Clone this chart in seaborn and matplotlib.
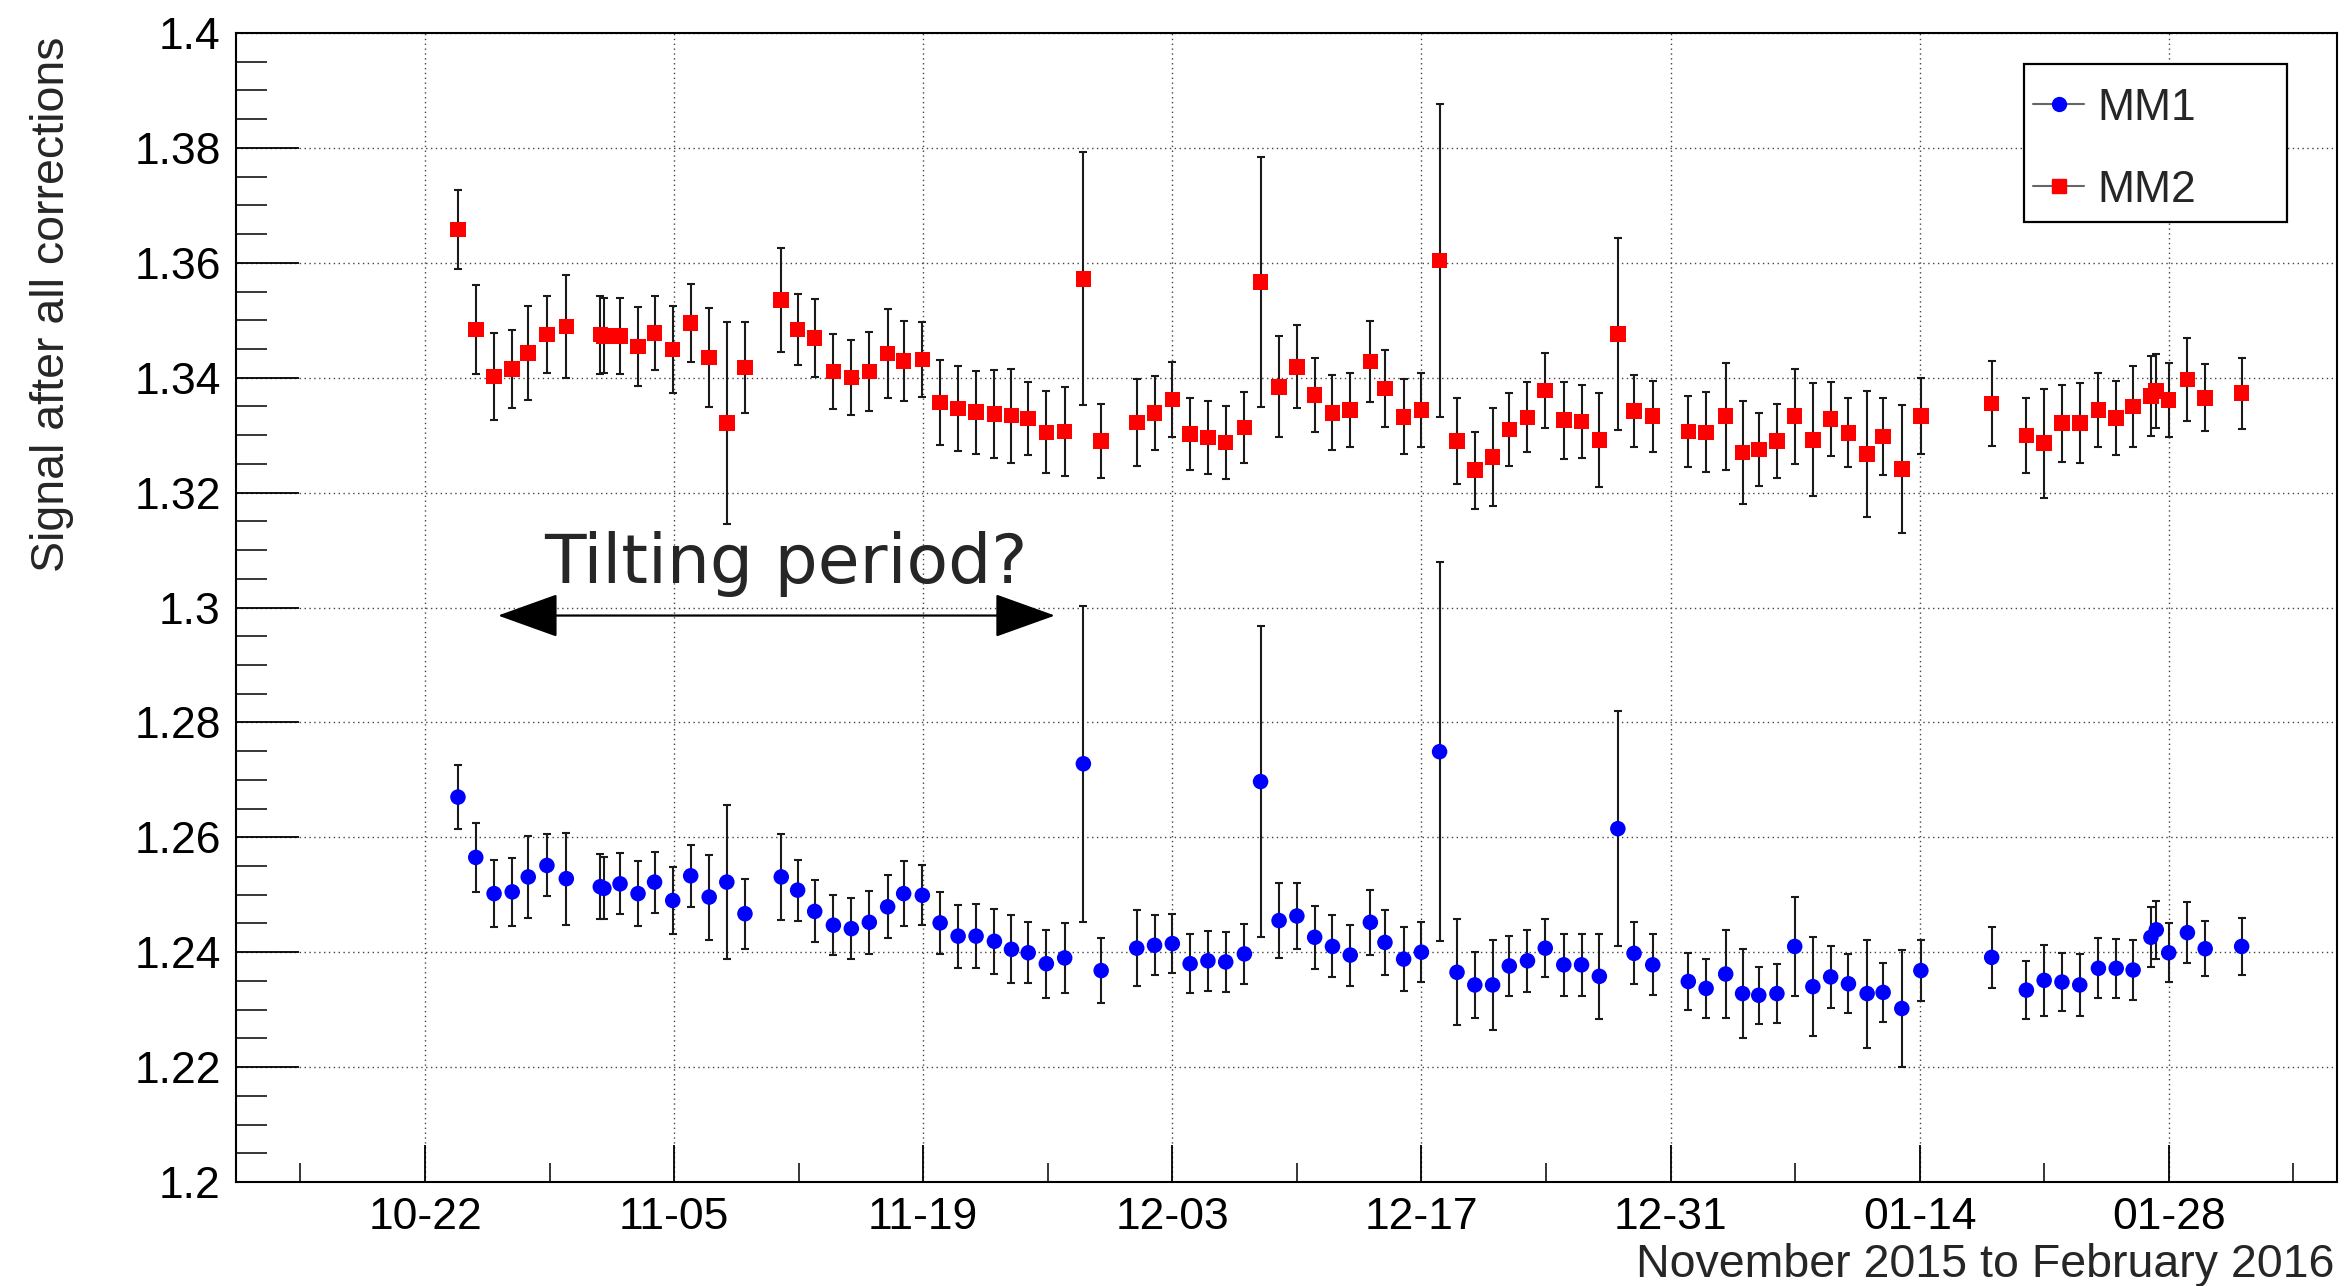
import numpy as np
import pandas as pd
import matplotlib
matplotlib.use('Agg')
import matplotlib.pyplot as plt
import matplotlib.dates as mdates
from matplotlib.ticker import MultipleLocator, FuncFormatter
from matplotlib.lines import Line2D
from matplotlib.patches import Rectangle
import seaborn as sns

# ---------------- data ----------------
start_date = '2015-10-22'
day_offsets = [1.85, 2.85, 3.88, 4.9, 5.8, 6.85, 7.94, 9.85, 10.05, 10.96, 11.97, 12.9, 13.92, 14.93, 15.97, 16.96, 17.98,
               20.02, 20.94, 21.9, 22.95, 23.96, 24.97, 26.0, 26.9, 27.95, 28.95, 29.96, 30.97, 32.0, 32.96, 33.9, 34.92, 35.95,
               37.0, 38.0,
               40.0, 41.0, 42.0, 43.0, 44.0, 45.0, 46.05,
               46.96, 48.0, 49.0, 50.0, 51.0, 52.0, 53.13, 53.95, 55.0, 56.0, 57.02, 58.0, 59.0, 60.0, 60.94, 61.96,
               62.96, 64.0, 65.0, 66.0, 67.04, 67.95, 69.0,
               71.0, 72.0, 73.1, 74.05, 74.96, 75.98, 76.98, 78.0, 79.0, 80.0, 81.05, 81.95, 83.0, 84.07,
               88.05, 90.0, 91.0, 92.0, 93.0, 94.05, 95.05, 96.0, 97.0, 97.3, 98.0, 99.05, 100.05, 102.1]

mm2_signal = [1.3658, 1.3484, 1.3402, 1.3415, 1.3443, 1.3475, 1.3489, 1.3475, 1.3473, 1.3473, 1.3454, 1.3478, 1.3449,
              1.3495, 1.3435, 1.3321, 1.3418,
              1.3535, 1.3484, 1.3469, 1.3411, 1.3400, 1.3411, 1.3442, 1.3429, 1.3432, 1.3357, 1.3346, 1.3340, 1.3337,
              1.3334, 1.3329, 1.3305, 1.3306,
              1.3572, 1.3290,
              1.3322, 1.3339, 1.3362, 1.3302, 1.3296, 1.3287, 1.3313,
              1.3567, 1.3384, 1.3419, 1.3370, 1.3339, 1.3344, 1.3428, 1.3381, 1.3332, 1.3344, 1.3604, 1.3290, 1.3239,
              1.3262, 1.3310, 1.3331, 1.3378, 1.3326, 1.3324, 1.3292, 1.3476, 1.3342, 1.3333,
              1.3306, 1.3305, 1.3333, 1.3270, 1.3275, 1.3290, 1.3333, 1.3292, 1.3328, 1.3304, 1.3267, 1.3298, 1.3241,
              1.3333,
              1.3355, 1.3299, 1.3286, 1.3321, 1.3321, 1.3344, 1.3330, 1.3350, 1.3368, 1.3377, 1.3361, 1.3397, 1.3365,
              1.3373]
mm2_error = [0.0068, 0.0077, 0.0075, 0.0068, 0.0082, 0.0067, 0.0090, 0.0068, 0.0065, 0.0066, 0.0069, 0.0064, 0.0076,
             0.0068, 0.0086, 0.0176, 0.0079,
             0.0090, 0.0062, 0.0068, 0.0065, 0.0065, 0.0069, 0.0077, 0.0070, 0.0065, 0.0074, 0.0074, 0.0072, 0.0077,
             0.0082, 0.0063, 0.0071, 0.0077,
             0.0220, 0.0065,
             0.0076, 0.0064, 0.0065, 0.0063, 0.0064, 0.0063, 0.0062,
             0.0218, 0.0088, 0.0072, 0.0065, 0.0065, 0.0064, 0.0070, 0.0067, 0.0065, 0.0065, 0.0272, 0.0075, 0.0067,
             0.0086, 0.0063, 0.0061, 0.0065, 0.0067, 0.0064, 0.0082, 0.0167, 0.0063, 0.0062,
             0.0062, 0.0070, 0.0093, 0.0089, 0.0064, 0.0064, 0.0083, 0.0098, 0.0065, 0.0060, 0.0109, 0.0067, 0.0112,
             0.0066,
             0.0074, 0.0065, 0.0095, 0.0067, 0.0070, 0.0065, 0.0065, 0.0070, 0.0069, 0.0065, 0.0064, 0.0072, 0.0058,
             0.0062]

mm1_signal = [1.2670, 1.2565, 1.2502, 1.2505, 1.2531, 1.2551, 1.2528, 1.2514, 1.2511, 1.2519, 1.2502, 1.2522, 1.2490,
              1.2533, 1.2496, 1.2522, 1.2467,
              1.2531, 1.2508, 1.2471, 1.2447, 1.2441, 1.2452, 1.2479, 1.2502, 1.2499, 1.2451, 1.2428, 1.2428, 1.2419,
              1.2405, 1.2399, 1.2380, 1.2390,
              1.2728, 1.2368,
              1.2407, 1.2412, 1.2415, 1.2380, 1.2385, 1.2383, 1.2397,
              1.2697, 1.2455, 1.2463, 1.2426, 1.2410, 1.2395, 1.2452, 1.2417, 1.2388, 1.2400, 1.2749, 1.2365, 1.2343,
              1.2343, 1.2376, 1.2385, 1.2407, 1.2378, 1.2378, 1.2358, 1.2615, 1.2398, 1.2378,
              1.2349, 1.2337, 1.2362, 1.2328, 1.2325, 1.2328, 1.2410, 1.2340, 1.2357, 1.2345, 1.2328, 1.2330, 1.2302,
              1.2368,
              1.2391, 1.2334, 1.2351, 1.2348, 1.2343, 1.2372, 1.2372, 1.2369, 1.2426, 1.2439, 1.2399, 1.2434, 1.2406,
              1.2410]
mm1_error = [0.0055, 0.0060, 0.0059, 0.0059, 0.0071, 0.0054, 0.0080, 0.0057, 0.0054, 0.0053, 0.0056, 0.0053, 0.0059,
             0.0054, 0.0074, 0.0134, 0.0061,
             0.0075, 0.0053, 0.0054, 0.0052, 0.0053, 0.0055, 0.0055, 0.0056, 0.0052, 0.0054, 0.0055, 0.0056, 0.0057,
             0.0059, 0.0053, 0.0059, 0.0061,
             0.0275, 0.0057,
             0.0066, 0.0052, 0.0052, 0.0051, 0.0052, 0.0052, 0.0052,
             0.0271, 0.0065, 0.0058, 0.0055, 0.0054, 0.0053, 0.0057, 0.0056, 0.0055, 0.0052, 0.0330, 0.0092, 0.0058,
             0.0078, 0.0053, 0.0054, 0.0051, 0.0054, 0.0054, 0.0074, 0.0205, 0.0054, 0.0053,
             0.0050, 0.0052, 0.0077, 0.0077, 0.0050, 0.0051, 0.0086, 0.0086, 0.0054, 0.0051, 0.0094, 0.0052, 0.0102,
             0.0053,
             0.0053, 0.0050, 0.0062, 0.0050, 0.0054, 0.0052, 0.0051, 0.0053, 0.0052, 0.0050, 0.0051, 0.0053, 0.0048,
             0.0049]

series_names = ['MM1', 'MM2']
series_colors = ['#0000ff', '#ff0000']
x_tick_dates = ['2015-10-22', '2015-11-05', '2015-11-19', '2015-12-03', '2015-12-17', '2015-12-31',
                '2016-01-14', '2016-01-28']
x_tick_labels = ['10-22', '11-05', '11-19', '12-03', '12-17', '12-31', '01-14', '01-28']
x_minor_dates = ['2015-10-15', '2015-10-29', '2015-11-12', '2015-11-26', '2015-12-10', '2015-12-24',
                 '2016-01-07', '2016-01-21', '2016-02-04']
x_range = ['2015-10-11 09:00', '2016-02-06 11:00']
annotation_text = 'Tilting period?'
arrow_days = [4.1, 35.4]
arrow_level = 1.2986
annotation_day = 20.25
annotation_level = 1.3042

# ---------------- frame ----------------
base = pd.Timestamp(start_date)
dates = base + pd.to_timedelta(day_offsets, unit='D')
n = len(day_offsets)
df = pd.DataFrame({
    'date': np.concatenate([dates.values, dates.values]),
    'signal': mm1_signal + mm2_signal,
    'err': mm1_error + mm2_error,
    'series': [series_names[0]] * n + [series_names[1]] * n,
})

sns.set_style('white')
plt.rcParams['font.family'] = ['Liberation Sans', 'DejaVu Sans']

W, H = 2346, 1286
fig = plt.figure(figsize=(W / 100, H / 100), dpi=100)
ax = fig.add_axes([236 / W, 1 - 1182 / H, (2337 - 236) / W, (1182 - 33) / H])

# error bars
for name in series_names:
    g = df[df['series'] == name]
    ax.errorbar(mdates.date2num(g['date']), g['signal'], yerr=g['err'], fmt='none',
                ecolor='#1a1a1a', elinewidth=1.5, capsize=3, capthick=1.5, zorder=2)

# markers
sns.scatterplot(data=df, x='date', y='signal', hue='series', style='series',
                palette=dict(zip(series_names, series_colors)),
                markers={series_names[0]: 'o', series_names[1]: 's'},
                s=125, linewidth=0, legend=False, ax=ax, zorder=3)

# axes limits / ticks
ax.set_xlim(mdates.date2num(pd.Timestamp(x_range[0])), mdates.date2num(pd.Timestamp(x_range[1])))
ax.set_ylim(1.2, 1.4)
ax.set_xticks(mdates.date2num(pd.to_datetime(x_tick_dates)), labels=x_tick_labels)
ax.set_xticks(mdates.date2num(pd.to_datetime(x_minor_dates)), minor=True)
ax.yaxis.set_major_locator(MultipleLocator(0.02))
ax.yaxis.set_minor_locator(MultipleLocator(0.005))
ax.yaxis.set_major_formatter(FuncFormatter(lambda v, p: f'{round(v, 4):g}'))

ax.tick_params(axis='y', which='major', direction='in', length=45, width=1.3, labelsize=32, pad=11,
               left=True, right=False, colors='black')
ax.tick_params(axis='y', which='minor', direction='in', length=22, width=1.3, left=True, right=False)
ax.tick_params(axis='x', which='major', direction='in', length=27, width=1.3, labelsize=32, pad=11,
               bottom=True, top=False, colors='black')
ax.tick_params(axis='x', which='minor', direction='in', length=13.5, width=1.3, bottom=True, top=False)

for sp in ax.spines.values():
    sp.set_visible(True)
    sp.set_color('black')
    sp.set_linewidth(1.5)

ax.set_axisbelow(True)
ax.grid(True, which='major', color='#444444', linestyle=(0, (1, 2.5)), linewidth=1.0)

ax.set_ylabel('Signal after all corrections', fontsize=33.5, loc='top')
ax.yaxis.set_label_coords(-0.077, 0.9965)
ax.set_xlabel('November 2015 to February 2016', fontsize=33.5, loc='right')
ax.xaxis.set_label_coords(0.9986, -0.053)

# annotation arrow + text
ax.annotate('', xy=(mdates.date2num(base + pd.Timedelta(days=arrow_days[1])), arrow_level),
            xytext=(mdates.date2num(base + pd.Timedelta(days=arrow_days[0])), arrow_level),
            arrowprops=dict(arrowstyle='<|-|>,head_length=1.95,head_width=0.7', mutation_scale=20,
                            color='black', lw=1.6, shrinkA=0, shrinkB=0), zorder=4)
ax.text(mdates.date2num(base + pd.Timedelta(days=annotation_day)), annotation_level, annotation_text,
        fontsize=49, family=['DejaVu Sans'], ha='center', va='baseline', zorder=4)

# legend with box
box = Rectangle(((2024 - 236) / 2101, (1182 - 222) / 1149), (2287 - 2024) / 2101, (222 - 64) / 1149,
                transform=ax.transAxes, facecolor='white', edgecolor='black', lw=1.6, zorder=5)
ax.add_patch(box)
h1 = Line2D([], [], color='#666666', lw=1.5, marker='o', ms=10, mfc=series_colors[0], mec=series_colors[0])
h2 = Line2D([], [], color='#666666', lw=1.5, marker='s', ms=9.5, mfc=series_colors[1], mec=series_colors[1])
leg = ax.legend([h1, h2], series_names, loc='upper left', bbox_to_anchor=((2033 - 236) / 2101, (1182 - 88) / 1149),
                frameon=False, fontsize=32, handlelength=1.15, handletextpad=0.3, labelspacing=0.92,
                borderpad=0, borderaxespad=0)
leg.set_zorder(6)

fig.savefig('out.png', dpi=100, facecolor='white')
